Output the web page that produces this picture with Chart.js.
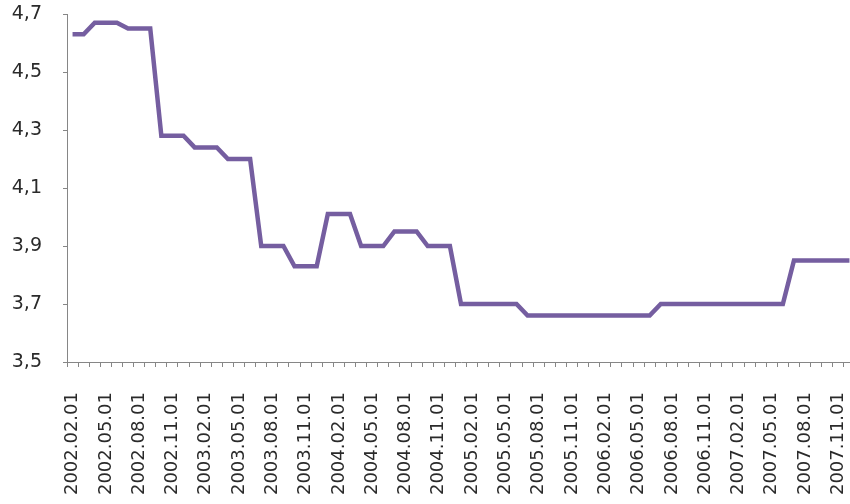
<!DOCTYPE html>
<html><head><meta charset="utf-8">
<script src="https://cdn.jsdelivr.net/npm/chart.js@4/dist/chart.umd.min.js"></script>
<style>html,body{margin:0;padding:0;background:#fff;overflow:hidden;width:850px;height:504px}</style>
</head><body>
<canvas id="c" width="855" height="504"></canvas>
<script>
const categories = [
"2002.02.01","2002.03.01","2002.04.01","2002.05.01","2002.06.01","2002.07.01","2002.08.01","2002.09.01","2002.10.01","2002.11.01","2002.12.01",
"2003.01.01","2003.02.01","2003.03.01","2003.04.01","2003.05.01","2003.06.01","2003.07.01","2003.08.01","2003.09.01","2003.10.01","2003.11.01","2003.12.01",
"2004.01.01","2004.02.01","2004.03.01","2004.04.01","2004.05.01","2004.06.01","2004.07.01","2004.08.01","2004.09.01","2004.10.01","2004.11.01","2004.12.01",
"2005.01.01","2005.02.01","2005.03.01","2005.04.01","2005.05.01","2005.06.01","2005.07.01","2005.08.01","2005.09.01","2005.10.01","2005.11.01","2005.12.01",
"2006.01.01","2006.02.01","2006.03.01","2006.04.01","2006.05.01","2006.06.01","2006.07.01","2006.08.01","2006.09.01","2006.10.01","2006.11.01","2006.12.01",
"2007.01.01","2007.02.01","2007.03.01","2007.04.01","2007.05.01","2007.06.01","2007.07.01","2007.08.01","2007.09.01","2007.10.01","2007.11.01","2007.12.01"
];
const values = [
4.63,4.63,4.67,4.67,4.67,4.65,4.65,4.65,4.28,4.28,4.28,
4.24,4.24,4.24,4.20,4.20,4.20,3.90,3.90,3.90,3.83,3.83,3.83,
4.01,4.01,4.01,3.90,3.90,3.90,3.95,3.95,3.95,3.90,3.90,3.90,
3.70,3.70,3.70,3.70,3.70,3.70,3.66,3.66,3.66,3.66,3.66,3.66,
3.66,3.66,3.66,3.66,3.66,3.66,3.70,3.70,3.70,3.70,3.70,3.70,
3.70,3.70,3.70,3.70,3.70,3.70,3.85,3.85,3.85,3.85,3.85,3.85
];
const yTicks = [3.5,3.7,3.9,4.1,4.3,4.5,4.7];
const labelEvery = 3;

const axisColor = '#868686';
const textColor = '#2a2a2a';
const fontFamily = '"DejaVu Sans", Verdana, sans-serif';

new Chart(document.getElementById('c'), {
  type: 'line',
  data: {
    labels: categories,
    datasets: [{
      data: values,
      borderColor: 'rgb(117,94,160)',
      borderWidth: 4.5,
      pointRadius: 0,
      tension: 0,
      fill: false
    }]
  },
  options: {
    responsive: false,
    animation: false,
    layout: { padding: { left: 0, right: 0, top: 14, bottom: 0 } },
    plugins: { legend: { display: false }, tooltip: { enabled: false } },
    scales: {
      x: {
        offset: true,
        afterFit: function(axis) { axis.height = 142; axis.paddingLeft = 0; axis.paddingRight = 0; },
        grid: { offset: true, drawOnChartArea: false, drawTicks: true, tickLength: 5, color: axisColor },
        border: { color: axisColor, width: 1 },
        ticks: {
          autoSkip: false, maxRotation: 90, minRotation: 90,
          color: textColor, font: { family: fontFamily, size: 18 }, padding: 25,
          callback: function(v, i) { return i % labelEvery === 0 ? categories[i] : ''; }
        }
      },
      y: {
        min: yTicks[0], max: yTicks[yTicks.length - 1],
        afterFit: function(axis) { axis.width = 67; axis.paddingTop = 0; axis.paddingBottom = 0; },
        afterBuildTicks: function(axis) { axis.ticks = yTicks.map(v => ({ value: v })); },
        grid: { drawOnChartArea: false, drawTicks: true, tickLength: 4, color: axisColor },
        border: { color: axisColor, width: 1 },
        ticks: {
          color: textColor, font: { family: fontFamily, size: 19 }, padding: 21,
          callback: function(v) { return v.toFixed(1).replace('.', ','); }
        }
      }
    }
  }
});
</script>
</body></html>
